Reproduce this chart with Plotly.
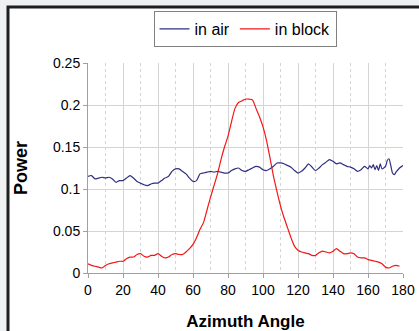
import plotly.graph_objects as go

# ---- data ----
air_angle = [0, 2, 4, 6, 8, 10, 12, 14, 16, 18, 20, 22, 24, 26, 28, 30, 32, 34, 36, 38,
             40, 42, 44, 46, 48, 50, 52, 54, 56, 58, 60, 62, 64, 66, 68, 70, 72, 74, 76, 78,
             80, 82, 84, 86, 88, 90, 92, 94, 96, 98, 100, 102, 104, 106, 108, 110, 112, 114,
             116, 118, 120, 122, 124, 126, 128, 130, 132, 134, 136, 138, 140, 142, 144, 146,
             148, 150, 152, 154, 156, 158, 160, 161, 162, 163, 164, 165, 166, 167, 168, 170,
             171, 172, 173, 174, 175, 176, 178, 180]
air_power = [0.115, 0.116, 0.112, 0.113, 0.114, 0.113, 0.114, 0.112, 0.108, 0.110, 0.110,
             0.113, 0.116, 0.113, 0.109, 0.107, 0.105, 0.104, 0.106, 0.107, 0.107, 0.110,
             0.113, 0.115, 0.121, 0.124, 0.124, 0.121, 0.118, 0.113, 0.109, 0.110, 0.118,
             0.119, 0.120, 0.121, 0.120, 0.121, 0.120, 0.119, 0.119, 0.122, 0.124, 0.125,
             0.122, 0.121, 0.123, 0.125, 0.127, 0.126, 0.123, 0.122, 0.124, 0.127, 0.131,
             0.131, 0.130, 0.128, 0.126, 0.122, 0.119, 0.121, 0.125, 0.130, 0.126, 0.122,
             0.125, 0.129, 0.132, 0.135, 0.133, 0.130, 0.131, 0.129, 0.127, 0.126, 0.124,
             0.121, 0.123, 0.127, 0.124, 0.128, 0.125, 0.129, 0.123, 0.128, 0.122, 0.130,
             0.124, 0.127, 0.134, 0.136, 0.128, 0.119, 0.117, 0.120, 0.125, 0.128]

block_angle = list(range(0, 180, 2))
block_power = [0.011, 0.009, 0.008, 0.007, 0.006, 0.009, 0.011, 0.012, 0.013, 0.014, 0.014,
               0.017, 0.019, 0.019, 0.022, 0.023, 0.020, 0.019, 0.021, 0.021, 0.023, 0.020,
               0.018, 0.019, 0.022, 0.023, 0.022, 0.022, 0.025, 0.029, 0.034, 0.042, 0.052,
               0.060, 0.075, 0.090, 0.104, 0.118, 0.135, 0.150, 0.163, 0.180, 0.196, 0.203,
               0.205, 0.207, 0.207, 0.206, 0.196, 0.186, 0.174, 0.158, 0.137, 0.115, 0.097,
               0.080, 0.066, 0.054, 0.042, 0.032, 0.027, 0.025, 0.024, 0.023, 0.021, 0.021,
               0.024, 0.026, 0.025, 0.024, 0.026, 0.029, 0.026, 0.023, 0.023, 0.024, 0.023,
               0.019, 0.018, 0.018, 0.016, 0.015, 0.014, 0.013, 0.011, 0.007, 0.006, 0.008,
               0.009, 0.008]

x_ticks = list(range(0, 181, 20))
y_ticks = [0, 0.05, 0.1, 0.15, 0.2, 0.25]
y_tick_labels = ["0", "0.05", "0.1", "0.15", "0.2", "0.25"]

FONT = "Liberation Sans, Arial, sans-serif"

fig = go.Figure()
fig.add_trace(go.Scatter(x=air_angle, y=air_power, mode="lines", name="in air",
                         line=dict(color="#2f2f80", width=1.2, shape="spline", smoothing=0.6)))
fig.add_trace(go.Scatter(x=block_angle, y=block_power, mode="lines", name="in block",
                         line=dict(color="#f01818", width=1.2, shape="spline", smoothing=0.6)))

L, R, T, B = 88, 16, 63, 58
W, H = 419, 331
pw, ph = W - L - R, H - T - B


def px(x):
    return (x - L) / pw


def py(y):
    return (H - B - y) / ph


fig.add_shape(type="rect", xref="paper", yref="paper",
              x0=px(8), x1=px(440), y0=py(7), y1=py(360),
              fillcolor="white", line=dict(color="#1e1e1e", width=3), layer="below")

fig.update_layout(
    width=W, height=H,
    margin=dict(l=L, r=R, t=T, b=B, autoexpand=False),
    paper_bgcolor="#eff0f2",
    plot_bgcolor="white",
    font=dict(family=FONT, color="black", size=14),
    showlegend=True,
    legend=dict(orientation="h", x=px(245), xanchor="center", y=py(11), yanchor="top",
                bgcolor="white", bordercolor="#808080", borderwidth=1,
                font=dict(size=16, family=FONT), itemwidth=30, tracegroupgap=0),
    xaxis=dict(range=[0, 180], tickvals=x_ticks, showgrid=True, gridcolor="#d4d4d4",
               gridwidth=1, zeroline=False, showline=True, linecolor="#a0a0a0",
               ticks="outside", ticklen=4, tickcolor="#a0a0a0", automargin=False,
               tickfont=dict(size=14),
               minor=dict(dtick=10, showgrid=True, gridcolor="#d4d4d4", griddash="dot",
                          ticks=""),
               title=dict(text="<b>Azimuth Angle</b>", font=dict(size=17), standoff=18)),
    yaxis=dict(range=[0, 0.25], tickvals=y_ticks, ticktext=y_tick_labels, showgrid=True,
               gridcolor="#d4d4d4", gridwidth=1, zeroline=False, showline=True,
               linecolor="#a0a0a0", ticks="outside", ticklen=4, tickcolor="#a0a0a0",
               automargin=False, tickfont=dict(size=14),
               title=dict(text="<b>Power</b>", font=dict(size=18), standoff=20)),
)

fig.write_html("out.html", config={"displayModeBar": False},
               post_script="document.body.style.margin='0';document.body.style.overflow='hidden';")
